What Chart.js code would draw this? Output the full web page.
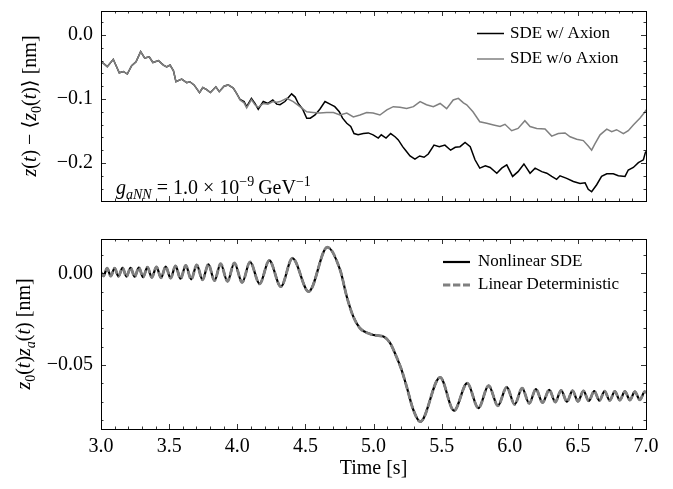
<!DOCTYPE html>
<html>
<head>
<meta charset="utf-8">
<script src="https://cdn.jsdelivr.net/npm/chart.js@4.4.1/dist/chart.umd.min.js"></script>
<style>
  body { margin: 0; background: #fff; }
  #wrap { position: relative; width: 673px; height: 489px; }
  canvas { position: absolute; left: 0; }
</style>
</head>
<body>
<div id="wrap">
  <canvas id="topChart" width="673" height="215" style="top:0"></canvas>
  <canvas id="bottomChart" width="673" height="274" style="top:215px"></canvas>
</div>
<script>
// ---- data ----
// top panel, both runs overlap up to ~4.0 s
var earlyT = [3.000, 3.010, 3.046, 3.090, 3.134, 3.164, 3.193, 3.225, 3.257, 3.291, 3.321, 3.354, 3.381, 3.422, 3.458, 3.482, 3.507, 3.532, 3.550, 3.592, 3.629, 3.652, 3.683, 3.723, 3.747, 3.773, 3.803, 3.843, 3.868, 3.903, 3.933, 3.971, 3.994];
var earlyZ = [-0.045, -0.043, -0.0495, -0.038, -0.059, -0.057, -0.061, -0.048, -0.042, -0.026, -0.036, -0.034, -0.043, -0.040, -0.047, -0.050, -0.047, -0.056, -0.073, -0.069, -0.0745, -0.073, -0.078, -0.090, -0.082, -0.085, -0.090, -0.081, -0.0885, -0.080, -0.078, -0.083, -0.091];

// SDE w/ Axion after 4.0 s
var axionT = [4.020, 4.050, 4.069, 4.104, 4.130, 4.154, 4.191, 4.225, 4.261, 4.290, 4.314, 4.350, 4.399, 4.425, 4.448, 4.480, 4.510, 4.536, 4.571, 4.606,
  4.644, 4.681, 4.716, 4.749, 4.773, 4.804, 4.833, 4.857, 4.887, 4.925, 4.962, 4.997, 5.035, 5.057, 5.092, 5.126, 5.158, 5.182, 5.214, 5.238,
  5.268, 5.304, 5.339, 5.371, 5.402, 5.444, 5.483, 5.524, 5.566, 5.600, 5.635, 5.672, 5.710, 5.745, 5.780, 5.821, 5.856, 5.905, 5.941, 5.978,
  6.021, 6.061, 6.104, 6.149, 6.186, 6.235, 6.272, 6.308, 6.344, 6.369, 6.418, 6.467, 6.516, 6.553, 6.576, 6.601, 6.638, 6.674, 6.712, 6.760,
  6.797, 6.846, 6.870, 6.907, 6.944, 6.981, 6.995, 7.000];
var axionZ = [-0.1005, -0.104, -0.112, -0.099, -0.107, -0.116, -0.104, -0.107, -0.1015, -0.108, -0.109, -0.104, -0.092, -0.097, -0.107, -0.116, -0.130, -0.130, -0.125, -0.116,
  -0.104, -0.108, -0.112, -0.120, -0.130, -0.138, -0.143, -0.154, -0.156, -0.154, -0.153, -0.156, -0.161, -0.156, -0.161, -0.154, -0.159, -0.164, -0.1745, -0.181,
  -0.189, -0.194, -0.189, -0.191, -0.186, -0.172, -0.1745, -0.172, -0.180, -0.1755, -0.1745, -0.168, -0.1745, -0.195, -0.208, -0.2045, -0.207, -0.216, -0.208, -0.203,
  -0.221, -0.2135, -0.2015, -0.216, -0.208, -0.2135, -0.216, -0.221, -0.2255, -0.220, -0.224, -0.229, -0.232, -0.231, -0.241, -0.245, -0.234, -0.221, -0.217, -0.217,
  -0.220, -0.221, -0.211, -0.207, -0.1995, -0.195, -0.184, -0.182];

// SDE w/o Axion after 4.0 s
var noAxionT = [4.020, 4.050, 4.069, 4.104, 4.130, 4.154, 4.191, 4.225, 4.261, 4.290, 4.314, 4.363, 4.411, 4.460, 4.510, 4.556, 4.606, 4.656, 4.706, 4.754,
  4.804, 4.852, 4.901, 4.950, 4.997, 5.047, 5.098, 5.145, 5.194, 5.243, 5.293, 5.342, 5.389, 5.439, 5.489, 5.537, 5.585, 5.623, 5.660, 5.684,
  5.730, 5.780, 5.831, 5.881, 5.929, 5.965, 6.014, 6.061, 6.111, 6.149, 6.198, 6.259, 6.308, 6.356, 6.406, 6.443, 6.491, 6.540, 6.576, 6.601,
  6.625, 6.663, 6.712, 6.748, 6.784, 6.834, 6.870, 6.907, 6.955, 6.993, 7.000];
var noAxionZ = [-0.1015, -0.106, -0.114, -0.101, -0.109, -0.113, -0.107, -0.108, -0.104, -0.105, -0.104, -0.099, -0.104, -0.112, -0.120, -0.121, -0.122, -0.121, -0.121, -0.125,
  -0.122, -0.128, -0.125, -0.121, -0.122, -0.125, -0.117, -0.112, -0.113, -0.115, -0.112, -0.104, -0.109, -0.112, -0.107, -0.115, -0.1015, -0.099, -0.106, -0.109,
  -0.120, -0.1355, -0.138, -0.1405, -0.143, -0.1395, -0.1495, -0.146, -0.134, -0.143, -0.146, -0.147, -0.158, -0.154, -0.153, -0.159, -0.163, -0.165, -0.1735, -0.180,
  -0.170, -0.156, -0.147, -0.151, -0.148, -0.154, -0.1495, -0.1405, -0.130, -0.120, -0.117];

// bottom panel: crests, troughs and knees of the trace
var waveT = [3.000, 3.018, 3.045, 3.072, 3.100, 3.128, 3.158, 3.187, 3.217, 3.247, 3.278, 3.309, 3.341, 3.373, 3.407, 3.441, 3.475, 3.511, 3.547, 3.584,
  3.622, 3.662, 3.703, 3.745, 3.788, 3.833, 3.878, 3.928, 3.979, 4.036, 4.094, 4.164, 4.235, 4.320, 4.405, 4.524, 4.661, 4.755, 4.804, 4.852,
  4.901, 4.974, 5.047, 5.073, 5.121, 5.168, 5.206, 5.243, 5.292, 5.343, 5.489, 5.591, 5.688, 5.770, 5.845, 5.913, 5.978, 6.036, 6.091, 6.143,
  6.192, 6.241, 6.290, 6.334, 6.377, 6.420, 6.461, 6.501, 6.541, 6.580, 6.620, 6.658, 6.696, 6.734, 6.771, 6.808, 6.845, 6.882, 6.918, 6.955,
  6.991, 7.000];
var waveZ = [0.0005, -0.0015, 0.0028, -0.0016, 0.0028, -0.0017, 0.0029, -0.0018, 0.0030, -0.0019, 0.0031, -0.0021, 0.0033, -0.0023, 0.0035, -0.0025, 0.0037, -0.0027, 0.0040, -0.0030,
  0.0043, -0.0033, 0.0046, -0.0036, 0.0049, -0.0040, 0.0052, -0.0044, 0.0056, -0.0050, 0.0062, -0.0058, 0.0070, -0.0073, 0.0082, -0.0100, 0.0142, 0.0018, -0.0128, -0.0237,
  -0.0300, -0.0331, -0.0342, -0.0345, -0.0380, -0.0455, -0.0527, -0.0618, -0.0745, -0.0810, -0.0568, -0.0750, -0.0600, -0.0736, -0.0613, -0.0723, -0.0621, -0.0716, -0.0627, -0.0710,
  -0.0632, -0.0706, -0.0636, -0.0703, -0.0639, -0.0701, -0.0641, -0.0699, -0.0642, -0.0697, -0.0643, -0.0695, -0.0644, -0.0694, -0.0645, -0.0693, -0.0645, -0.0692, -0.0646, -0.0691,
  -0.0646, -0.0652];

var xTicks = [3.0, 3.5, 4.0, 4.5, 5.0, 5.5, 6.0, 6.5, 7.0];
var topTicks = [-0.2, -0.1, 0.0];
var bottomTicks = [-0.05, 0.00];

var SERIF = '"Liberation Serif", "DejaVu Serif", serif';

function pts(t, z) {
  return t.map(function(v, i) { return {x: v, y: z[i]}; });
}

function fontFor(p) {
  return (p.i ? 'italic ' : '') + (p.s ? 14 : 20) + 'px ' + SERIF;
}

// mixed roman / italic / sub / superscript text, left end at x
function drawRich(ctx, parts, x, y) {
  parts.forEach(function(p) {
    ctx.font = fontFor(p);
    var dy = p.s === 'sub' ? 5 : (p.s === 'sup' ? -8 : 0);
    ctx.fillText(p.t, x, y + dy);
    x += ctx.measureText(p.t).width;
  });
}
function richWidth(ctx, parts) {
  var w = 0;
  parts.forEach(function(p) { ctx.font = fontFor(p); w += ctx.measureText(p.t).width; });
  return w;
}

// inward ticks on all four sides, frame, legend inside, axis titles
function makeDecor(d) {
  return {
    id: 'decor',
    afterDraw: function(chart) {
      var ctx = chart.ctx, a = chart.chartArea, sx = chart.scales.x, sy = chart.scales.y;
      var i, p, L;
      ctx.save();
      ctx.strokeStyle = '#000';
      ctx.lineWidth = 0.8;
      ctx.beginPath();
      for (i = 0; i <= 40; i++) {
        p = Math.round(sx.getPixelForValue(3 + i * 0.1)) + 0.5;
        L = i % 5 === 0 ? 5 : 2.5;
        ctx.moveTo(p, a.bottom); ctx.lineTo(p, a.bottom - L);
        ctx.moveTo(p, a.top); ctx.lineTo(p, a.top + L);
      }
      var k0 = Math.ceil(sy.min / d.yMinor - 1e-9), k1 = Math.floor(sy.max / d.yMinor + 1e-9);
      for (i = k0; i <= k1; i++) {
        p = Math.round(sy.getPixelForValue(i * d.yMinor)) + 0.5;
        L = i % d.perMajor === 0 ? 5 : 2.5;
        ctx.moveTo(a.left, p); ctx.lineTo(a.left + L, p);
        ctx.moveTo(a.right, p); ctx.lineTo(a.right - L, p);
      }
      ctx.stroke();
      ctx.lineWidth = 1;
      ctx.strokeRect(a.left + 0.5, a.top + 0.5, a.right - a.left, a.bottom - a.top);

      // legend
      ctx.textAlign = 'left';
      ctx.textBaseline = 'middle';
      chart.data.datasets.forEach(function(ds, j) {
        var yy = d.legend.y[j];
        ctx.strokeStyle = ds.borderColor;
        ctx.lineWidth = ds.borderWidth;
        ctx.setLineDash(ds.borderDash || []);
        ctx.beginPath();
        ctx.moveTo(d.legend.x1, yy); ctx.lineTo(d.legend.x2, yy);
        ctx.stroke();
        ctx.setLineDash([]);
        ctx.fillStyle = '#000';
        ctx.font = '17px ' + SERIF;
        ctx.fillText(ds.label, d.legend.tx, yy);
      });

      // y title, rotated
      ctx.textBaseline = 'alphabetic';
      ctx.fillStyle = '#000';
      ctx.save();
      ctx.translate(d.yTitle.x, d.yTitle.y);
      ctx.rotate(-Math.PI / 2);
      drawRich(ctx, d.yTitle.parts, -richWidth(ctx, d.yTitle.parts) / 2, 6);
      ctx.restore();

      if (d.note) drawRich(ctx, d.note.parts, d.note.x, d.note.y);

      if (d.xTitle) {
        ctx.font = '20px ' + SERIF;
        ctx.textAlign = 'center';
        ctx.textBaseline = 'middle';
        ctx.fillText(d.xTitle.text, (a.left + a.right) / 2, d.xTitle.y);
      }
      ctx.restore();
    }
  };
}

function minusFmt(digits) {
  return function(v) { return (v < 0 ? '\u2212' : '') + Math.abs(v).toFixed(digits); };
}

function makeChart(id, cfg) {
  return new Chart(document.getElementById(id), {
    type: 'line',
    data: {datasets: cfg.datasets},
    options: {
      responsive: false,
      animation: false,
      events: [],
      layout: {padding: {top: cfg.padTop, right: 27, left: 0, bottom: 0}},
      elements: {point: {radius: 0}, line: {tension: 0}},
      plugins: {legend: {display: false}, tooltip: {enabled: false}},
      scales: {
        x: {
          type: 'linear', min: 3, max: 7,
          grid: {display: false, drawTicks: false},
          border: {display: false},
          afterBuildTicks: function(s) { s.ticks = xTicks.map(function(v) { return {value: v}; }); },
          afterFit: function(s) {
            s.height = cfg.xHeight;
            s.paddingLeft = 0; s.paddingRight = 0; s.paddingTop = 0; s.paddingBottom = 0;
          },
          ticks: {display: cfg.xLabels, autoSkip: false, maxRotation: 0, padding: 6, color: '#000',
                  font: {family: SERIF, size: 20}, callback: minusFmt(1)}
        },
        y: {
          type: 'linear', min: cfg.yMin, max: cfg.yMax,
          grid: {display: false, drawTicks: false},
          border: {display: false},
          afterBuildTicks: function(s) { s.ticks = cfg.yTicks.map(function(v) { return {value: v}; }); },
          afterFit: function(s) {
            s.width = 101;
            s.paddingLeft = 0; s.paddingRight = 0; s.paddingTop = 0; s.paddingBottom = 0;
          },
          ticks: {autoSkip: false, padding: 8, color: '#000',
                  font: {family: SERIF, size: 20}, callback: minusFmt(cfg.yDigits)}
        }
      }
    },
    plugins: [makeDecor(cfg.decor)]
  });
}

makeChart('topChart', {
  padTop: 11, xHeight: 14, xLabels: false,
  yMin: -0.2594, yMax: 0.0375, yTicks: topTicks, yDigits: 1,
  datasets: [
    {label: 'SDE w/ Axion', data: pts(earlyT.concat(axionT), earlyZ.concat(axionZ)),
     borderColor: '#000000', borderWidth: 1.5, order: 1},
    {label: 'SDE w/o Axion', data: pts(earlyT.concat(noAxionT), earlyZ.concat(noAxionZ)),
     borderColor: '#808080', borderWidth: 1.5, order: 0}
  ],
  decor: {
    yMinor: 0.02, perMajor: 5,
    legend: {x1: 477, x2: 504, tx: 510, y: [33.5, 59]},
    yTitle: {x: 30, y: 106, parts: [
      {t: 'z', i: 1}, {t: '('}, {t: 't', i: 1}, {t: ') \u2212 \u27E8'}, {t: 'z', i: 1}, {t: '0', s: 'sub'},
      {t: '('}, {t: 't', i: 1}, {t: ')\u27E9 [nm]'}]},
    note: {x: 116, y: 194, parts: [
      {t: 'g', i: 1}, {t: 'aNN', i: 1, s: 'sub'}, {t: ' = 1.0 \u00D7 10'}, {t: '\u22129', s: 'sup'},
      {t: '\u2009GeV'}, {t: '\u22121', s: 'sup'}]}
  }
});

makeChart('bottomChart', {
  padTop: 24, xHeight: 60, xLabels: true,
  yMin: -0.085, yMax: 0.0187, yTicks: bottomTicks, yDigits: 2,
  datasets: [
    {label: 'Nonlinear SDE', data: pts(waveT, waveZ), borderColor: '#000000', borderWidth: 2.2,
     cubicInterpolationMode: 'monotone', order: 1},
    {label: 'Linear Deterministic', data: pts(waveT, waveZ), borderColor: '#808080', borderWidth: 2.8,
     borderDash: [7.3, 2.7], cubicInterpolationMode: 'monotone', order: 0}
  ],
  decor: {
    yMinor: 0.01, perMajor: 5,
    legend: {x1: 443, x2: 470, tx: 478, y: [47, 70]},
    yTitle: {x: 24, y: 119, parts: [
      {t: 'z', i: 1}, {t: '0', s: 'sub'}, {t: '('}, {t: 't', i: 1}, {t: ')'}, {t: 'z', i: 1}, {t: 'a', i: 1, s: 'sub'},
      {t: '('}, {t: 't', i: 1}, {t: ') [nm]'}]},
    xTitle: {text: 'Time [s]', y: 254}
  }
});
</script>
</body>
</html>
